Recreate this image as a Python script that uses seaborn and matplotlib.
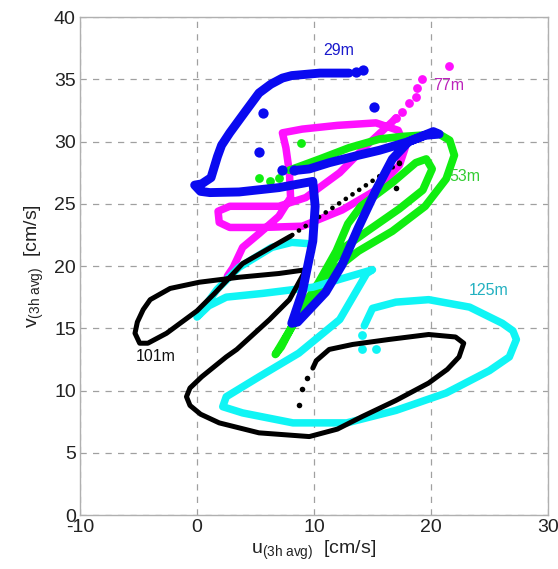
import matplotlib
matplotlib.use("Agg")
import matplotlib.pyplot as plt
import seaborn as sns
import pandas as pd

# ---------------- data (u, v in cm/s) ----------------
# 29 m (blue)
u29 = [13.0, 12.5, 10.5, 8.1, 7.3, 6.3, 5.3, 4.2, 2.8, 2.1, 1.75, 1.2, 0.4, -0.2, 0.3, 1.1, 3.6, 7.0,
       9.9, 10.1, 9.9, 9.0, 8.1, 8.6, 11.0, 12.4, 13.8, 15.3, 16.7, 18.1, 19.5, 20.7, 20.2, 18.1,
       15.6, 13.8, 11.3, 9.6, 8.6]
v29 = [35.5, 35.5, 35.5, 35.3, 35.1, 34.6, 33.9, 32.5, 30.7, 29.7, 28.8, 27.1, 26.6, 26.5, 26.0,
       25.9, 25.95, 26.3, 26.8, 24.8, 22.0, 17.9, 15.4, 15.5, 17.9, 20.1, 23.1, 26.1, 28.6, 30.0,
       30.5, 30.6, 30.8, 30.0, 29.3, 28.9, 28.3, 27.8, 27.7]
u29_dots = [14.2, 13.6, 8.3, 7.3, 5.6, 5.3, 15.1]
v29_dots = [35.75, 35.6, 27.7, 27.7, 32.3, 29.2, 32.8]

# 53 m (green)
u53 = [7.9, 10.5, 13.0, 15.6, 17.5, 20.7, 21.6, 22.0, 21.3, 19.5, 16.7, 13.8, 11.9, 10.1, 8.1, 6.7,
       7.2, 8.7, 10.4, 11.9, 12.9, 14.0, 16.7, 18.7, 19.6, 20.1, 19.3, 17.3, 14.7, 12.6, 11.3]
v53 = [27.7, 28.6, 29.5, 30.2, 30.4, 30.6, 30.1, 28.9, 27.0, 24.8, 22.8, 21.2, 19.8, 17.9, 15.1, 12.9,
       13.5, 16.2, 18.7, 21.2, 23.4, 24.8, 26.7, 28.3, 28.6, 27.8, 26.1, 24.6, 22.9, 21.5, 20.0]
u53_dots = [5.3, 6.2, 7.0, 8.9]
v53_dots = [27.1, 26.8, 27.1, 29.9]

# 77 m (magenta)
u77 = [17.0, 16.7, 14.4, 12.2, 9.3, 7.0, 2.8, 1.8, 1.9, 2.8, 5.6, 9.0, 12.4, 15.3, 17.3, 17.8, 17.2,
       15.3, 12.0, 9.0, 7.3, 7.6, 7.9, 8.0, 7.0, 5.3, 3.9, 3.1, 2.6]
v77 = [31.9, 31.6, 29.6, 27.5, 25.5, 24.8, 24.8, 24.4, 23.5, 23.1, 23.1, 23.2, 24.5, 26.1, 28.1, 29.5,
       30.9, 31.5, 31.3, 31.0, 30.7, 29.5, 27.5, 25.5, 24.0, 22.6, 21.5, 19.9, 19.2]
u77_dots = [21.5, 19.2, 18.8, 18.7, 18.1, 17.5, 17.0]
v77_dots = [36.1, 35.0, 34.3, 33.6, 33.1, 32.4, 31.9]

# 101 m (black)
u101_diag = [17.3, 8.0]
v101_diag = [28.3, 22.4]
u101 = [8.0, 3.9, 1.5, 0.0, -2.6, -4.2, -4.9, -5.3, -5.1, -4.6, -4.0, -2.3, 0.2, 3.6, 7.0, 9.3,
        7.9, 6.2, 3.4, 2.5, 0.4, -0.6, -0.9, -0.6, 0.3, 1.9, 5.3, 9.6, 12.0, 14.1, 17.0, 19.8, 21.4,
        22.4, 22.8, 22.1, 19.8, 16.4, 13.3, 11.3, 10.2, 9.9]
v101 = [22.4, 20.2, 17.8, 16.4, 14.6, 13.8, 13.8, 14.6, 15.5, 16.5, 17.3, 18.2, 18.7, 19.1, 19.4,
        19.7, 17.3, 15.7, 13.3, 12.7, 11.1, 10.2, 9.5, 8.8, 8.1, 7.4, 6.6, 6.3, 6.9, 7.9, 9.2, 10.6,
        11.7, 12.7, 13.8, 14.3, 14.5, 14.1, 13.7, 13.3, 12.4, 11.8]
u101_dots = [17.3, 17.0, 9.4, 9.0, 8.7]
v101_dots = [28.3, 26.3, 11.0, 10.1, 8.8]

# 125 m (cyan)
u125 = [14.3, 15.0, 17.0, 19.8, 23.3, 26.1, 27.0, 27.3, 26.7, 25.0, 21.3, 17.0, 12.8, 8.2, 3.9, 2.2,
        2.5, 5.3, 8.7, 12.2, 14.5, 15.0, 12.8, 9.9, 5.6, 2.5, 1.0, 0.0, 1.7, 3.6, 6.4, 8.1, 9.5]
v125 = [15.2, 16.6, 17.1, 17.3, 16.7, 15.4, 14.8, 14.1, 12.7, 11.6, 9.8, 8.4, 7.4, 7.4, 8.2, 8.7,
        9.5, 11.1, 13.0, 15.7, 19.4, 19.7, 19.1, 18.3, 17.8, 17.5, 16.8, 15.9, 18.1, 19.9, 21.5, 21.9,
        21.8]
u125_dots = [14.1, 15.3, 14.1]
v125_dots = [13.3, 13.3, 14.5]

depth_labels = ["29m", "53m", "77m", "101m", "125m"]
label_u = [12.1, 22.9, 21.5, -3.5, 24.9]
label_v = [37.3, 27.2, 34.5, 12.7, 18.0]

x_ticks = [-10, 0, 10, 20, 30]
y_ticks = [0, 5, 10, 15, 20, 25, 30, 35, 40]

# ---------------- style ----------------
sns.set_style("white")
plt.rcParams["font.family"] = ["Liberation Sans", "DejaVu Sans"]
plt.rcParams["mathtext.fontset"] = "custom"
plt.rcParams["mathtext.rm"] = "Liberation Sans"
plt.rcParams["mathtext.it"] = "Liberation Sans:italic"

fig = plt.figure(figsize=(5.58, 5.69), dpi=100)
ax = fig.add_axes([0.1434, 0.0949, 0.8386, 0.8751])

BLUE = "#0a0af0"
GREEN = "#10ee10"
MAG = "#ff10ff"
CYAN = "#10f5f5"
BLACK = "#000000"

def path(u, v, color, lw, z):
    df = pd.DataFrame({"u": u, "v": v})
    sns.lineplot(data=df, x="u", y="v", sort=False, estimator=None, color=color,
                 linewidth=lw, ax=ax, zorder=z, solid_capstyle="round",
                 solid_joinstyle="round")

def dots(u, v, color, s, z):
    sns.scatterplot(x=u, y=v, color=color, s=s, linewidth=0, ax=ax, zorder=z)

# draw order: magenta, green, cyan, black, blue
path(u77, v77, MAG, 5.4, 3)
dots(u77_dots, v77_dots, MAG, 40, 3)
path(u53, v53, GREEN, 5.6, 4)
dots(u53_dots, v53_dots, GREEN, 40, 4)
path(u125, v125, CYAN, 5.4, 5)
dots(u125_dots, v125_dots, CYAN, 40, 5)
path(u101, v101, BLACK, 3.6, 6)
sns.lineplot(x=u101_diag, y=v101_diag, sort=False, estimator=None, color=BLACK, linewidth=3.4,
             ax=ax, zorder=6, linestyle=(0, (0.01, 1.7)), dash_capstyle="round")
dots(u101_dots, v101_dots, BLACK, 16, 6)
path(u29, v29, BLUE, 6.4, 7)
dots(u29_dots, v29_dots, BLUE, 55, 7)

label_colors = ["#1a1acc", "#33cc33", "#bb22bb", "#111111", "#22b0c0"]
for t, x, y, c in zip(depth_labels, label_u, label_v, label_colors):
    ax.text(x, y, t, color=c, fontsize=11.5, ha="center", va="center", zorder=10)

ax.set_xlim(-10, 30)
ax.set_ylim(0, 40)
ax.set_xticks(x_ticks)
ax.set_yticks(y_ticks)
ax.set_xticklabels([str(t) for t in x_ticks])
ax.set_yticklabels([str(t) for t in y_ticks])
ax.grid(True, linestyle=(0, (5, 5)), color="#a0a0a0", linewidth=0.9)
ax.set_axisbelow(True)
for sp in ax.spines.values():
    sp.set_color("#b0b0b0")
    sp.set_linewidth(1.0)
ax.tick_params(axis="both", direction="in", length=4, color="#b0b0b0", labelsize=14,
               labelcolor="#222222", pad=3)

ax.set_xlabel(r"u$_{\mathrm{(3h\ avg)}}$  [cm/s]", fontsize=14, color="#222222", labelpad=2)
ax.set_ylabel(r"v$_{\mathrm{(3h\ avg)}}$  [cm/s]", fontsize=14, color="#222222", labelpad=6)

fig.savefig("out.png", dpi=100)
